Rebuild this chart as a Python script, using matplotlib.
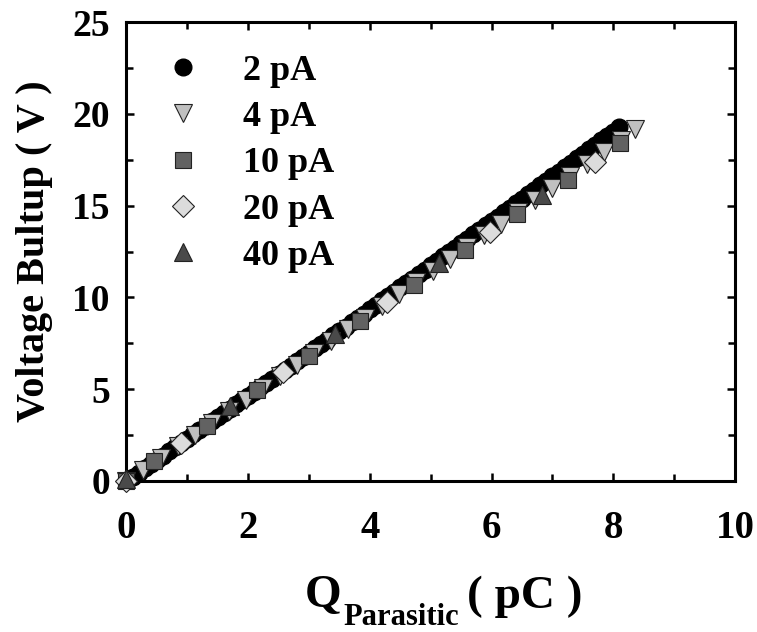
import matplotlib
matplotlib.use("Agg")
import matplotlib.pyplot as plt
from matplotlib.ticker import MultipleLocator

plt.rcParams["font.family"] = "Liberation Serif"
plt.rcParams["font.weight"] = "bold"

# 2 pA
q_2pA = [0.0, 0.1, 0.2, 0.3, 0.4, 0.5, 0.6, 0.7, 0.8, 0.9,
         1.0, 1.1, 1.2, 1.3, 1.4, 1.5, 1.6, 1.7, 1.8, 1.9,
         2.0, 2.1, 2.2, 2.3, 2.4, 2.5, 2.6, 2.7, 2.8, 2.9,
         3.0, 3.1, 3.2, 3.3, 3.4, 3.5, 3.6, 3.7, 3.8, 3.9,
         4.0, 4.1, 4.2, 4.3, 4.4, 4.5, 4.6, 4.7, 4.8, 4.9,
         5.0, 5.1, 5.2, 5.3, 5.4, 5.5, 5.6, 5.7, 5.8, 5.9,
         6.0, 6.1, 6.2, 6.3, 6.4, 6.5, 6.6, 6.7, 6.8, 6.9,
         7.0, 7.1, 7.2, 7.3, 7.4, 7.5, 7.6, 7.7, 7.8, 7.9,
         8.0, 8.1]
v_2pA = [0.00, 0.23, 0.46, 0.69, 0.92, 1.15, 1.38, 1.61, 1.85, 2.08,
         2.31, 2.54, 2.77, 3.01, 3.24, 3.47, 3.71, 3.94, 4.17, 4.41,
         4.64, 4.87, 5.11, 5.34, 5.58, 5.81, 6.05, 6.28, 6.52, 6.75,
         6.99, 7.23, 7.46, 7.70, 7.94, 8.17, 8.41, 8.65, 8.88, 9.12,
         9.36, 9.60, 9.84, 10.08, 10.31, 10.55, 10.79, 11.03, 11.27, 11.51,
         11.75, 11.99, 12.23, 12.47, 12.71, 12.95, 13.19, 13.43, 13.67, 13.92,
         14.16, 14.40, 14.64, 14.89, 15.13, 15.37, 15.62, 15.86, 16.10, 16.35,
         16.59, 16.83, 17.08, 17.32, 17.57, 17.81, 18.06, 18.30, 18.55, 18.79,
         19.04, 19.29]

# 4 pA
q_4pA = [0.0, 0.28, 0.56, 0.84, 1.12, 1.40, 1.68, 1.96, 2.24, 2.52,
         2.80, 3.08, 3.36, 3.64, 3.92, 4.20, 4.48, 4.76, 5.04, 5.32,
         5.60, 5.88, 6.16, 6.44, 6.72, 7.00, 7.28, 7.56, 7.84, 8.12, 8.36]
v_4pA = [0.00, 0.62, 1.25, 1.88, 2.52, 3.15, 3.79, 4.42, 5.06, 5.70,
         6.34, 6.98, 7.62, 8.26, 8.90, 9.54, 10.18, 10.82, 11.46, 12.10,
         12.74, 13.38, 14.02, 14.66, 15.30, 15.95, 16.60, 17.25, 17.90, 18.55, 19.20]

# 10 pA
q_10pA = [0.0, 0.45, 1.32, 2.15, 3.00, 3.84, 4.72, 5.57, 6.41, 7.26, 8.11]
v_10pA = [0.0, 1.10, 3.00, 4.95, 6.80, 8.70, 10.65, 12.60, 14.55, 16.40, 18.40]

# 20 pA
q_20pA = [0.0, 0.89, 2.58, 4.28, 5.98, 7.70]
v_20pA = [0.0, 2.05, 5.95, 9.77, 13.58, 17.39]

# 40 pA
q_40pA = [0.0, 1.71, 3.43, 5.13, 6.83]
v_40pA = [0.1, 4.10, 8.00, 11.85, 15.60]

fig = plt.figure(figsize=(7.57, 6.32), dpi=100)
ax = fig.add_axes([0.167, 0.239, 0.804, 0.726])

edge = "#222222"
ax.plot(q_2pA, v_2pA, "o", ms=12, color="black", mec="black", label="2 pA",
        zorder=2, clip_on=False)
ax.plot(q_4pA, v_4pA, "v", ms=13, color="#c0c0c0", mec=edge, mew=0.8, label="4 pA",
        zorder=3, clip_on=False)
ax.plot(q_10pA, v_10pA, "s", ms=12, color="#626262", mec=edge, mew=0.8, label="10 pA",
        zorder=4, clip_on=False)
ax.plot(q_20pA, v_20pA, "D", ms=11, color="#dcdcdc", mec=edge, mew=0.8, label="20 pA",
        zorder=5, clip_on=False)
ax.plot(q_40pA, v_40pA, "^", ms=13, color="#4a4a4a", mec=edge, mew=0.8, label="40 pA",
        zorder=6, clip_on=False)

ax.set_xlim(0, 10)
ax.set_ylim(0, 25)
ax.xaxis.set_major_locator(MultipleLocator(2))
ax.xaxis.set_minor_locator(MultipleLocator(1))
ax.yaxis.set_major_locator(MultipleLocator(5))
ax.yaxis.set_minor_locator(MultipleLocator(2.5))
ax.tick_params(which="both", direction="in", top=True, right=True, width=1.8)
ax.tick_params(which="major", length=6)
ax.tick_params(which="minor", length=5)
ax.tick_params(axis="x", which="major", labelsize=28, pad=21)
ax.tick_params(axis="y", which="major", labelsize=27, pad=12)
for s in ax.spines.values():
    s.set_linewidth(2.2)
for lbl in ax.get_xticklabels() + ax.get_yticklabels():
    lbl.set_fontweight("bold")

ax.set_ylabel("Voltage Bultup ( V )", fontsize=29, fontweight="bold", labelpad=14)

# x label: Q with a subscript, then the unit
q_txt = fig.text(0.403, 0.040, "Q", fontsize=34, fontweight="bold", va="baseline")
sub_txt = ax.annotate("Parasitic", xy=(1, 0), xycoords=q_txt, xytext=(1, -6),
                      textcoords="offset points", fontsize=22, fontweight="bold",
                      va="baseline", ha="left")
ax.annotate("( pC )", xy=(1, 0), xycoords=sub_txt, xytext=(6, 17),
            textcoords="offset points", fontsize=34, fontweight="bold",
            va="baseline", ha="left")

leg = ax.legend(loc="upper left", frameon=False, fontsize=26, handlelength=1.0,
                handletextpad=1.15, labelspacing=0.36, borderpad=0.4,
                borderaxespad=0, bbox_to_anchor=(0.040, 0.961))
for t in leg.get_texts():
    t.set_fontweight("bold")

fig.savefig("out.png", dpi=100)
